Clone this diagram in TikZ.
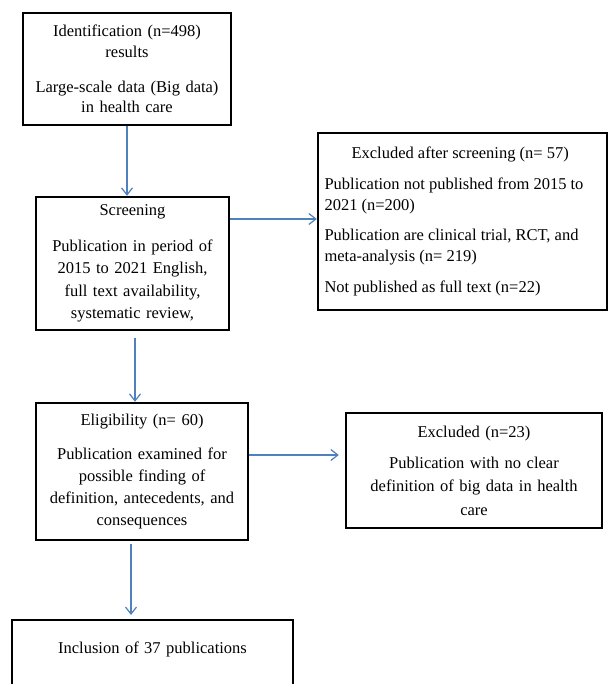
\documentclass[tikz,border=0pt]{standalone}
\usepackage{fontspec}
\setmainfont{Liberation Serif}
\usetikzlibrary{arrows.meta,positioning}
\definecolor{flowblue}{RGB}{79,129,189}
\tikzset{box/.style={draw, line width=2.4pt, align=center, inner sep=0pt, font=\fontsize{16.5}{22.5}\selectfont}}
\tikzset{flow/.style={draw=flowblue, line width=1.2pt, -{Straight Barb[length=7pt,width=11pt]}}}

\begin{document}
\begin{tikzpicture}[x=1pt, y=-1pt]
\useasboundingbox (0,0) rectangle (608,684);
\node[box, minimum width=208pt, minimum height=112pt, text width=200pt, font=\fontsize{16.5}{20.5}\selectfont] (ident) at (127,69)
  {Identification (n=498)\\ results\\[14.5pt] Large-scale data (Big data)\\ in health care};
\node[box, minimum width=193pt, minimum height=133pt, text width=185pt, font=\fontsize{16.5}{22.6}\selectfont] (screen) at (132.5,263.5)
  {Screening\\[13pt] Publication in period of\\ 2015 to 2021 English,\\ full text availability,\\ systematic review,};
\node[box, align=flush left, minimum width=289pt, minimum height=177pt, text width=276pt, font=\fontsize{16.5}{20.5}\selectfont] (excl1) at (462.5,221.5)
  {\makebox[\hsize][l]{\hspace{27pt}Excluded after screening (n= 57)}\\[10.5pt]
   Publication not published from 2015 to\\ 2021 (n=200)\\[10pt]
   Publication are clinical trial, RCT, and\\ meta-analysis (n= 219)\\[11pt]
   Not published as full text (n=22)};
\node[box, minimum width=212pt, minimum height=137pt, text width=204pt, font=\fontsize{16.5}{22.3}\selectfont] (elig) at (142,471.5)
  {Eligibility (n= 60)\\[11.7pt] Publication examined for\\ possible finding of\\ definition, antecedents, and\\ consequences};
\node[box, minimum width=256pt, minimum height=115pt, text width=248pt, font=\fontsize{16.5}{23.5}\selectfont] (excl2) at (474,470.5)
  {Excluded (n=23)\\[7.5pt] Publication with no clear\\ definition of big data in health\\ care};
\node[box, anchor=north, minimum width=281pt, text width=273pt, text height=33pt, text depth=50pt] (incl) at (152.5,619)
  {Inclusion of 37 publications};

% connectors
\coordinate (s1) at ([yshift=44.5pt]screen.east);
\coordinate (s2) at ([xshift=2.5pt]screen.south);
\coordinate (e1) at ([yshift=16.5pt]elig.east);
\coordinate (e2) at ([xshift=-11pt]elig.south);
\draw[flow] (ident.south) -- (ident.south |- screen.north);
\draw[flow] (s1) -- (s1 -| excl1.west);
\draw[flow, shorten <=7pt] (s2) -- (s2 |- elig.north);
\draw[flow, shorten >=6pt] (e1) -- (e1 -| excl2.west);
\draw[flow, shorten <=3pt, shorten >=4pt] (e2) -- (e2 |- incl.north);
\end{tikzpicture}
\end{document}
